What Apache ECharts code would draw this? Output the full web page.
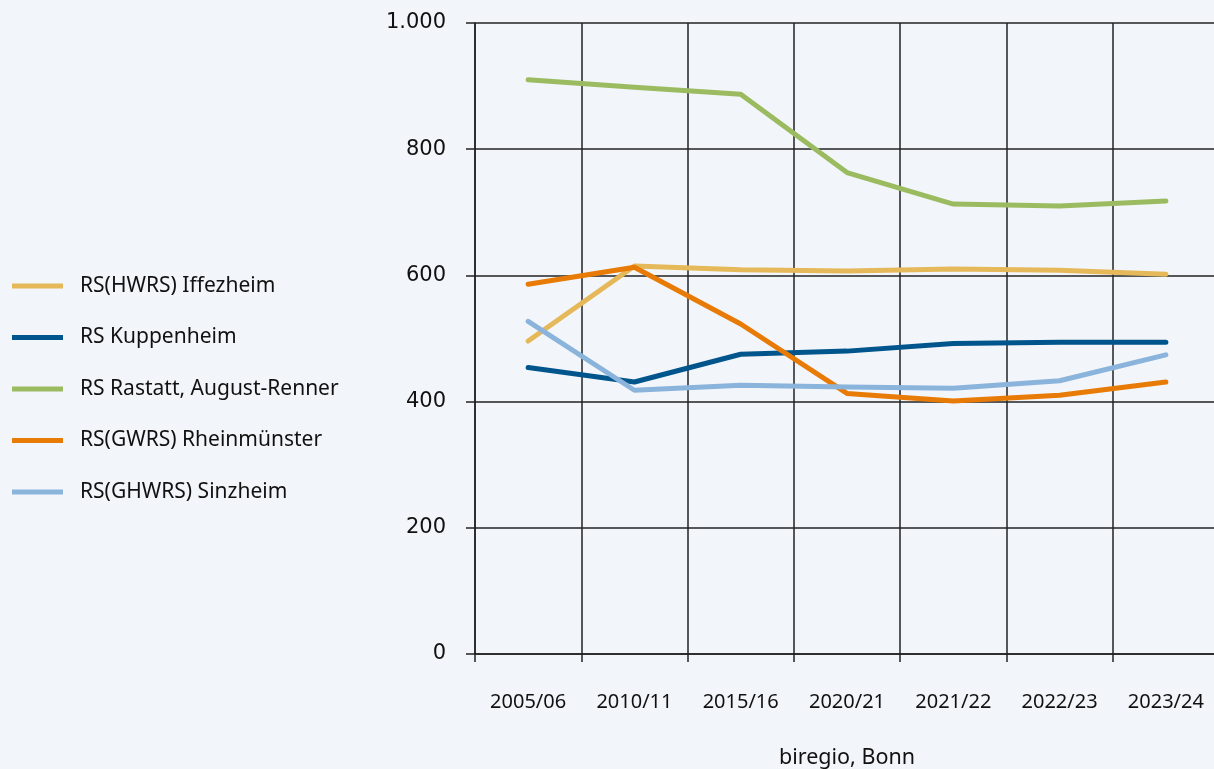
<!DOCTYPE html>
<html>
<head>
<meta charset="utf-8">
<script src="https://cdn.jsdelivr.net/npm/echarts@6/dist/echarts.min.js"></script>
<style>
html,body{margin:0;padding:0;background:#f2f5f9;}
#c{width:1214px;height:769px;}
</style>
</head>
<body>
<div id="c"></div>
<script>
const categories = ['2005/06','2010/11','2015/16','2020/21','2021/22','2022/23','2023/24'];
const iffezheim = [496, 615, 609, 607, 610, 608, 602];
const kuppenheim = [454, 431, 475, 480, 492, 494, 494];
const rastatt = [910, 898, 887, 763, 713, 710, 718];
const rheinmuenster = [586, 613, 523, 413, 401, 410, 431];
const sinzheim = [527, 418, 426, 423, 421, 433, 474];
const seriesNames = ['RS(HWRS) Iffezheim','RS Kuppenheim','RS Rastatt, August-Renner','RS(GWRS) Rheinmünster','RS(GHWRS) Sinzheim'];
const seriesData = [iffezheim, kuppenheim, rastatt, rheinmuenster, sinzheim];
const colors = ['#e5b95a','#00558c','#9bbb61','#e87a06','#8ab4dc'];

const chart = echarts.init(document.getElementById('c'));
chart.setOption({
  backgroundColor: '#f2f5f9',
  animation: false,
  textStyle: {fontFamily: 'Noto Sans'},
  legend: {
    orient: 'vertical',
    left: 7,
    top: 269,
    icon: 'rect',
    itemWidth: 51,
    itemHeight: 5,
    itemGap: 27.5,
    textStyle: {fontSize: 21, color: '#111', lineHeight: 24, padding: [0,0,0,12], fontFamily: 'Noto Sans'},
    data: seriesNames
  },
  grid: {left: 475, top: 23, right: -5, bottom: 115, containLabel: false, outerBoundsMode: 'none'},
  xAxis: {
    type: 'category',
    data: categories,
    boundaryGap: true,
    name: 'biregio, Bonn',
    nameLocation: 'middle',
    nameGap: 93,
    nameTextStyle: {fontSize: 21.5, color: '#111', fontFamily: 'Noto Sans'},
    axisLine: {lineStyle: {color: '#222', width: 1.5}},
    axisTick: {show: true, length: 8, lineStyle: {color: '#222', width: 1.5}},
    axisLabel: {margin: 38, fontSize: 20, color: '#111', fontFamily: 'Noto Sans'},
    splitLine: {show: true, lineStyle: {color: '#222', width: 1.5}}
  },
  yAxis: {
    type: 'value',
    min: 0,
    max: 1000,
    interval: 200,
    axisLine: {show: true, lineStyle: {color: '#222', width: 1.5}},
    axisTick: {show: true, length: 9, lineStyle: {color: '#222', width: 1.5}},
    axisLabel: {margin: 29, fontSize: 21, color: '#111', fontFamily: 'DejaVu Sans',
      formatter: v => v === 1000 ? '1.000' : String(v)},
    splitLine: {show: true, lineStyle: {color: '#222', width: 1.5}}
  },
  series: seriesNames.map((n, i) => ({
    name: n,
    type: 'line',
    data: seriesData[i],
    showSymbol: false,
    symbol: 'none',
    lineStyle: {width: 5, color: colors[i], cap: 'round', join: 'round'},
    itemStyle: {color: colors[i]}
  }))
});
</script>
</body>
</html>
